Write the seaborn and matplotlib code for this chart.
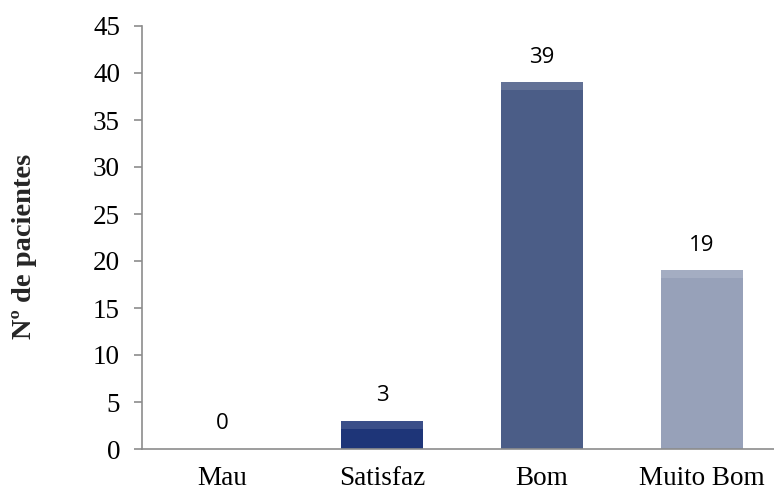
import matplotlib
matplotlib.use("Agg")
import matplotlib.pyplot as plt
import seaborn as sns
import pandas as pd

categories = ["Mau", "Satisfaz", "Bom", "Muito Bom"]
values = [0, 3, 39, 19]
bar_colors = ["#1E3578", "#1E3578", "#4B5D87", "#97A1B9"]
y_ticks = [0, 5, 10, 15, 20, 25, 30, 35, 40, 45]
y_label = "Nº de pacientes"

sns.set_theme(style="white")
plt.rcParams["font.family"] = ["Liberation Serif", "DejaVu Serif"]

df = pd.DataFrame({"cat": categories, "val": values})

fig = plt.figure(figsize=(7.74, 4.90), dpi=100)
W, H = 774, 490
ax = fig.add_axes([142 / W, 41 / H, (774 - 142) / W, 423 / H])

sns.barplot(data=df, x="cat", y="val", hue="cat", palette=bar_colors,
            order=categories, hue_order=categories, legend=False,
            width=0.51, saturation=1, edgecolor="none", ax=ax)

# subtle bevel highlight at the top of each bar
for i, v in enumerate(values):
    if v > 0:
        hl = min(0.85, v * 0.3)
        ax.bar(i, hl, bottom=v - hl, width=0.51, color="white", alpha=0.13,
               edgecolor="none", zorder=3)

ax.set_xlim(-0.5, 3.45)
ax.set_ylim(0, 45)
ax.set_yticks(y_ticks)
ax.set_yticklabels([str(t) for t in y_ticks])
ax.set_xlabel("")
ax.set_ylabel(y_label, fontsize=20.5, fontweight="bold")
ax.yaxis.set_label_coords(-0.166, (449 - 246) / 423)

for s in ["top", "right"]:
    ax.spines[s].set_visible(False)
for s in ["left", "bottom"]:
    ax.spines[s].set_color("#8C8C8C")
    ax.spines[s].set_linewidth(1.2)

ax.tick_params(axis="y", which="major", direction="out", length=5.8,
               width=1.2, color="#8C8C8C", pad=10, labelsize=19.5,
               left=True)
ax.tick_params(axis="x", length=0, pad=12.5, labelsize=19.5)
for lab in ax.get_xticklabels() + ax.get_yticklabels():
    lab.set_color("black")

for i, v in enumerate(values):
    ax.annotate(str(v), xy=(i, v), xytext=(0, 10.5), textcoords="offset points",
                ha="center", va="bottom", fontsize=16,
                family=["Open Sans", "DejaVu Sans"], color="black")

fig.savefig("out.png", dpi=100)
